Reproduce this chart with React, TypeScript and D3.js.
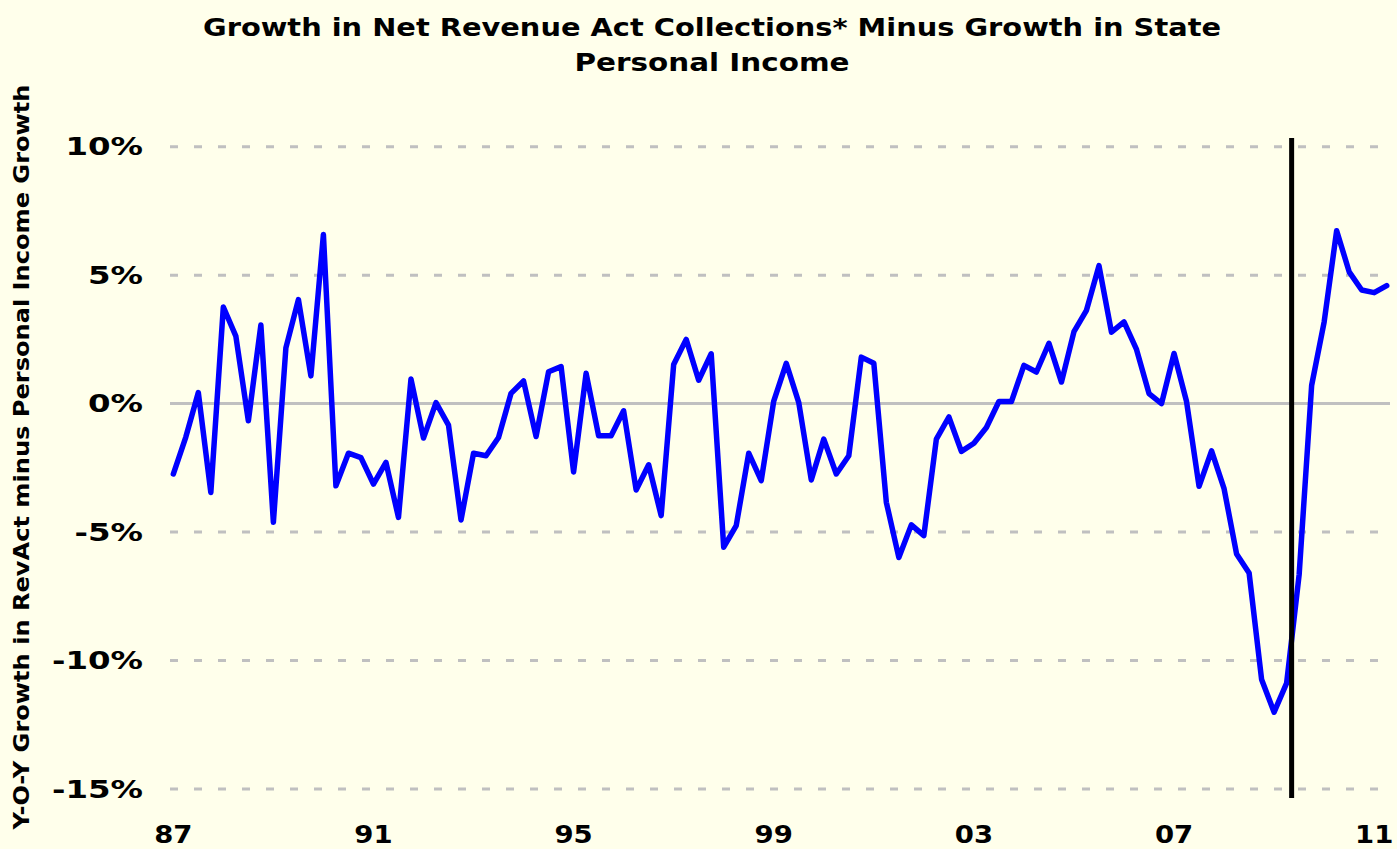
import { useEffect, useRef } from "react"
import * as d3 from "d3"

// quarterly, 1987 Q1 .. 2011 Q2
const startYear = 1987
const values = [
  -2.74, -1.3, 0.43, -3.46, 3.76, 2.63, -0.67, 3.06, -4.62, 2.17, 4.05, 1.08, 6.58, -3.2, -1.93, -2.1,
  -3.13, -2.29, -4.43, 0.96, -1.34, 0.04, -0.84, -4.53, -1.93, -2.03, -1.32, 0.4, 0.88, -1.28, 1.24, 1.44,
  -2.66, 1.18, -1.25, -1.25, -0.28, -3.36, -2.38, -4.36, 1.52, 2.5, 0.91, 1.94, -5.59, -4.75, -1.93, -3.0,
  0.1, 1.57, 0.04, -2.97, -1.38, -2.74, -2.03, 1.81, 1.57, -3.84, -5.99, -4.72, -5.14, -1.38, -0.52, -1.86,
  -1.54, -0.93, 0.08, 0.08, 1.49, 1.23, 2.35, 0.84, 2.8, 3.63, 5.37, 2.78, 3.18, 2.11, 0.39, 0.0,
  1.95, 0.08, -3.22, -1.84, -3.31, -5.85, -6.59, -10.74, -12.01, -10.88, -6.66, 0.71, 3.18, 6.73, 5.13, 4.42,
  4.32, 4.59,
]
const quarters = values.map((_, i) => `${startYear + Math.floor(i / 4)}Q${(i % 4) + 1}`)
const xTickQuarters = ["1987Q1", "1991Q1", "1995Q1", "1999Q1", "2003Q1", "2007Q1", "2011Q1"]
const xTickLabels = ["87", "91", "95", "99", "03", "07", "11"]
const yTicks = [10, 5, 0, -5, -10, -15]
// position of the black vertical marker, in quarters from 1987 Q1
const markerQuarter = 89.4

const titleLines = ["Growth in Net Revenue Act Collections* Minus Growth in State", "Personal Income"]
const yTitle = "Y-O-Y Growth in RevAct minus Personal Income Growth"

const width = 1397
const height = 849
const bg = "#FFFFEB"
const font = "'DejaVu Sans', Verdana, sans-serif"

export default function App() {
  const svgRef = useRef<SVGSVGElement>(null)

  useEffect(() => {
    const svg = d3.select(svgRef.current)
    svg.selectAll("*").remove()

    const x = d3.scalePoint<string>().domain(quarters).range([173.3, 1386.7])
    const xi = d3.scaleLinear().domain([0, quarters.length - 1]).range([173.3, 1386.7])
    const y = d3.scaleLinear().domain([-15, 10]).range([789, 146.7])

    svg.append("rect").attr("width", width).attr("height", height).attr("fill", bg)

    // grid lines
    svg
      .append("g")
      .selectAll("line")
      .data(yTicks)
      .enter()
      .append("line")
      .attr("x1", 170)
      .attr("x2", 1390)
      .attr("y1", (d) => y(d))
      .attr("y2", (d) => y(d))
      .attr("stroke", "#C0C0C0")
      .attr("stroke-width", 3)
      .attr("stroke-dasharray", (d) => (d === 0 ? null : "8,16"))

    // y tick labels (wide, stretched look)
    svg
      .append("g")
      .selectAll("text")
      .data(yTicks)
      .enter()
      .append("text")
      .attr("transform", (d) => `translate(143,${y(d)}) scale(1.35,1)`)
      .attr("dy", "0.36em")
      .attr("text-anchor", "end")
      .style("font-family", font)
      .style("font-weight", "bold")
      .style("font-size", "24px")
      .text((d) => `${d}%`)

    // x tick labels
    svg
      .append("g")
      .selectAll("text")
      .data(xTickQuarters)
      .enter()
      .append("text")
      .attr("transform", (d) => `translate(${x(d)},843) scale(1.1,1)`)
      .attr("text-anchor", "middle")
      .style("font-family", font)
      .style("font-weight", "bold")
      .style("font-size", "25px")
      .text((d, i) => xTickLabels[i])

    // the series
    const line = d3
      .line<number>()
      .x((d, i) => x(quarters[i]) as number)
      .y((d) => y(d))

    svg
      .append("path")
      .datum(values)
      .attr("fill", "none")
      .attr("stroke", "#0000FF")
      .attr("stroke-width", 5.5)
      .attr("stroke-linejoin", "round")
      .attr("stroke-linecap", "round")
      .attr("d", line)

    // vertical marker
    svg
      .append("line")
      .attr("x1", xi(markerQuarter))
      .attr("x2", xi(markerQuarter))
      .attr("y1", 138)
      .attr("y2", 798)
      .attr("stroke", "#000")
      .attr("stroke-width", 5)

    // title
    const titleWidths = [1018, 275]
    const titleBase = [36, 71]
    titleLines.forEach((t, i) => {
      svg
        .append("text")
        .attr("x", 712)
        .attr("y", titleBase[i])
        .attr("text-anchor", "middle")
        .attr("textLength", titleWidths[i])
        .attr("lengthAdjust", "spacingAndGlyphs")
        .style("font-family", font)
        .style("font-weight", "bold")
        .style("font-size", "25px")
        .text(t)
    })

    // y axis title
    svg
      .append("text")
      .attr("transform", `translate(29,457) rotate(-90)`)
      .attr("text-anchor", "middle")
      .attr("textLength", 745)
      .attr("lengthAdjust", "spacingAndGlyphs")
      .style("font-family", font)
      .style("font-weight", "bold")
      .style("font-size", "21px")
      .text(yTitle)
  }, [])

  return (
    <svg
      ref={svgRef}
      width={width}
      height={height}
      style={{ position: "absolute", left: 0, top: 0, display: "block" }}
    />
  )
}
